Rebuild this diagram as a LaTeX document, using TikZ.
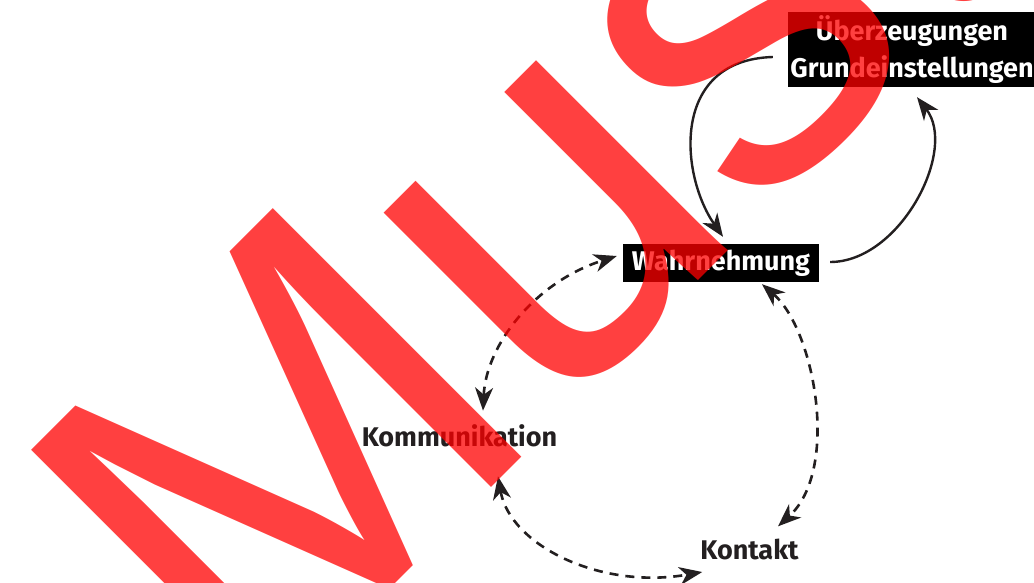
\documentclass[tikz,border=0pt]{standalone}
\usepackage{fontspec}
\setmainfont{Fira Sans}
\newfontfamily\wmfont{Liberation Sans}
\usetikzlibrary{arrows.meta,calc}
\definecolor{ink}{RGB}{35,31,32}
\begin{document}
\begin{tikzpicture}[x=1pt,y=-1pt,
  box/.style={fill=black, text=white, font=\bfseries\fontsize{27}{37}\selectfont, inner sep=0pt, align=center},
  lbl/.style={text=ink, font=\bfseries\fontsize{27}{30}\selectfont, inner sep=0pt},
  conn/.style={draw=ink, line width=2.4pt, -{Stealth[length=23pt,width=18pt,inset=7pt]}},
  dconn/.style={draw=ink, line width=2.6pt, {Stealth[length=23pt,width=18pt,inset=7pt]}-{Stealth[length=23pt,width=18pt,inset=7pt]}, dash pattern=on 9pt off 7pt},
  wmark/.style={text=red, text opacity=0.75, inner sep=0pt, font=\wmfont\fontsize{511}{511}\selectfont}]
\fill[white] (0,0) rectangle (1034,583);
\useasboundingbox (0,0) rectangle (1034,583);
% nodes
\node[box, minimum width=248pt, minimum height=75pt] (ub) at (912,49.5) {Überzeugungen\\Grundeinstellungen};
\node[box, minimum width=196pt, minimum height=38pt] (wa) at (721,263) {Wahrnehmung};
\node[lbl] (ko) at (459.5,436) {Kommunikation};
\node[lbl] (kt) at (749.5,549) {Kontakt};
% solid connectors
\draw[conn] ($(wa.east)+(11,-1)$) .. controls (900,262) and (958,150) .. ($(ub.south)+(5,10)$);
\draw[conn] ($(ub.west)+(-15,7.5)$) .. controls (670,60) and (680,175) .. ($(wa.north)+(2,-7)$);
% dashed connectors
\draw[dconn] ($(ko.north)+(23.5,-14)$) .. controls (486,345) and (535,282) .. ($(wa.west)+(-6,-7)$);
\draw[dconn] ($(wa.south)+(41,2)$) .. controls (815,330) and (840,470) .. ($(kt.north)+(28.5,-12)$);
\draw[dconn] ($(ko.south)+(38.5,29)$) .. controls (510,545) and (600,590) .. ($(kt.west)+(2,23)$);
% watermark
\node[wmark, anchor=base west, rotate=45] (wm) at (250,729) {Muster};
\end{tikzpicture}
\end{document}
